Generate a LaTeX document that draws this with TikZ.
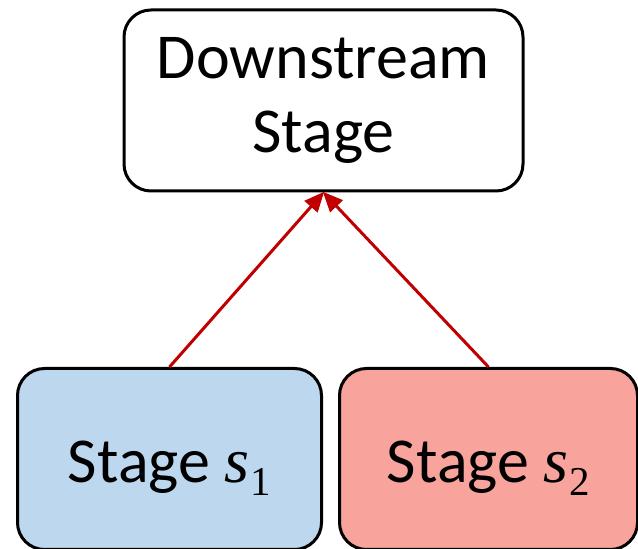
\documentclass[tikz,border=0pt]{standalone}
\usepackage{fontspec}
\setmainfont{Carlito}
\newfontfamily\varfont{Liberation Serif}
\usetikzlibrary{arrows.meta}
\definecolor{stageblue}{RGB}{189,215,238}
\definecolor{stagered}{RGB}{248,163,156}
\definecolor{flowred}{RGB}{192,0,0}
% stage variable: italic letter with a lowered index
\newcommand{\stagevar}[2]{{\varfont\itshape #1}\kern1pt\raisebox{-13pt}{\varfont\fontsize{41}{41}\selectfont #2}}
\tikzset{
  stagebox/.style={draw=black, line width=3pt, rounded corners=27pt,
    inner sep=0pt, align=center, font=\fontsize{64}{74}\selectfont},
  lowtext/.style={text height=50pt, text depth=3pt},
  flow/.style={draw=flowred, line width=3pt,
    -{Triangle[length=20pt,width=17pt]}, shorten >=-1pt}
}
\begin{document}
\begin{tikzpicture}[x=1pt,y=1pt]
  \useasboundingbox (0,0) rectangle (638,549);
  \node[stagebox, fill=white, minimum width=399pt, minimum height=181pt]
    (down) at (323.5,448.5) {Downstream\\Stage};
  \node[stagebox, lowtext, fill=stageblue, minimum width=304pt, minimum height=181pt]
    (s1) at (169.5,90) {Stage \stagevar{s}{1}};
  \node[stagebox, lowtext, fill=stagered, minimum width=298pt, minimum height=181pt]
    (s2) at (488.5,90) {Stage \stagevar{s}{2}};
  \draw[flow] (s1.north) -- (down.south);
  \draw[flow] (s2.north) -- (down.south);
\end{tikzpicture}
\end{document}
